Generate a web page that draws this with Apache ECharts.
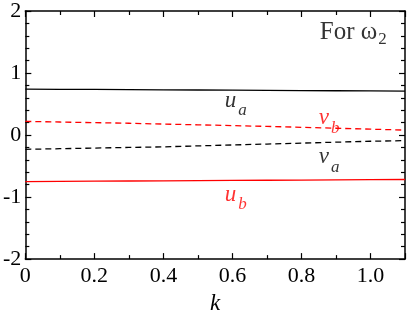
<!DOCTYPE html>
<html>
<head>
<meta charset="UTF-8">
<title>For omega 2</title>
<style>
body{margin:0;background:#fff;}
#picContainer{width:407px;height:320px;}
</style>
</head>
<body>
<div id="picContainer"></div>
<script src="https://cdn.jsdelivr.net/npm/echarts@6/dist/echarts.min.js"></script>
<script>
var kValues = [0, 0.1, 0.2, 0.3, 0.4, 0.5, 0.6, 0.7, 0.8, 0.9, 1.0, 1.1];
var uA = [0.74, 0.738, 0.735, 0.732, 0.729, 0.726, 0.723, 0.72, 0.717, 0.714, 0.711, 0.708];
var vB = [0.22, 0.21, 0.20, 0.19, 0.177, 0.165, 0.152, 0.14, 0.125, 0.11, 0.095, 0.08];
var vA = [-0.23, -0.22, -0.21, -0.20, -0.19, -0.175, -0.16, -0.145, -0.13, -0.115, -0.10, -0.09];
var uB = [-0.75, -0.747, -0.744, -0.741, -0.738, -0.735, -0.732, -0.729, -0.726, -0.723, -0.72, -0.717];
// curve labels: [k, y, main letter, subscript, colour]
var curveLabels = [
    [0.61, 0.55, 'u', 'a', '#000'],
    [0.88, 0.27, 'v', 'b', '#ff0000'],
    [0.88, -0.36, 'v', 'a', '#000'],
    [0.61, -0.96, 'u', 'b', '#ff0000']
];
var titlePos = [0.95, 1.66];

function pairs(ys){
    var out = [];
    for (var i = 0; i < kValues.length; i++) out.push([kValues[i], ys[i]]);
    return out;
}

var font = '"Times New Roman", "Liberation Serif", serif';
var axisBase = {
    min: 0, max: 1.1, interval: 0.2,
    axisLine: {onZero: false, lineStyle: {color: '#000', width: 1.5}},
    axisTick: {inside: true, length: 6, lineStyle: {color: '#000', width: 1.2}},
    minorTick: {show: true, splitNumber: 2, length: 4, lineStyle: {color: '#000', width: 1.2}},
    splitLine: {show: false}
};
var yBase = {
    min: -2, max: 2, interval: 1,
    axisLine: {onZero: false, lineStyle: {color: '#000', width: 1.5}},
    axisTick: {inside: true, length: 6, lineStyle: {color: '#000', width: 1.2}},
    minorTick: {show: true, splitNumber: 5, length: 4, lineStyle: {color: '#000', width: 1.2}},
    splitLine: {show: false}
};

var myChart = echarts.init(document.getElementById('picContainer'));
var labelSeries = curveLabels.map(function (c) {
    return {
        type: 'scatter', symbolSize: 0, silent: true,
        data: [[c[0], c[1]]],
        label: {
            show: true, position: 'inside',
            formatter: '{m|' + c[2] + '}{s|' + c[3] + '}',
            rich: {
                m: {fontFamily: font, fontStyle: 'italic', fontSize: 23, color: c[4], verticalAlign: 'bottom', height: 20},
                s: {fontFamily: font, fontStyle: 'italic', fontSize: 17, color: c[4], verticalAlign: 'bottom', padding: [0, 0, -10, 2], height: 20}
            }
        }
    };
});

var option = {
    animation: false,
    grid: {left: 24, right: 2, top: 9, bottom: 45},
    xAxis: [
        Object.assign({}, axisBase, {
            type: 'value', position: 'bottom',
            name: 'k', nameLocation: 'middle', nameGap: 28,
            nameTextStyle: {fontFamily: font, fontStyle: 'italic', fontSize: 23, color: '#000'},
            axisLabel: {
                fontFamily: font, fontSize: 22, color: '#000', margin: 6, showMaxLabel: false,
                formatter: function (v) { return v === 0 ? '0' : v.toFixed(1); }
            }
        }),
        Object.assign({}, axisBase, {type: 'value', position: 'top', axisLabel: {show: false}})
    ],
    yAxis: [
        Object.assign({}, yBase, {
            type: 'value', position: 'left',
            axisLabel: {fontFamily: font, fontSize: 22, color: '#000', margin: 4}
        }),
        Object.assign({}, yBase, {type: 'value', position: 'right', axisLabel: {show: false}})
    ],
    series: [
        {type: 'line', data: pairs(uA), symbol: 'none', lineStyle: {color: '#000', width: 1.3}},
        {type: 'line', data: pairs(vB), symbol: 'none', lineStyle: {color: '#ff0000', width: 1.3, type: [6, 4]}},
        {type: 'line', data: pairs(vA), symbol: 'none', lineStyle: {color: '#000', width: 1.3, type: [6, 4]}},
        {type: 'line', data: pairs(uB), symbol: 'none', lineStyle: {color: '#ff0000', width: 1.3}},
        {
            type: 'scatter', symbolSize: 0, silent: true,
            data: [titlePos],
            label: {
                show: true, position: 'inside',
                formatter: '{m|For ω}{s|2}',
                rich: {
                    m: {fontFamily: font, fontSize: 25, color: '#000', verticalAlign: 'bottom', height: 22},
                    s: {fontFamily: font, fontSize: 17, color: '#000', verticalAlign: 'bottom', padding: [0, 0, -7, 1], height: 22}
                }
            }
        }
    ].concat(labelSeries)
};
myChart.setOption(option);
</script>
</body>
</html>
